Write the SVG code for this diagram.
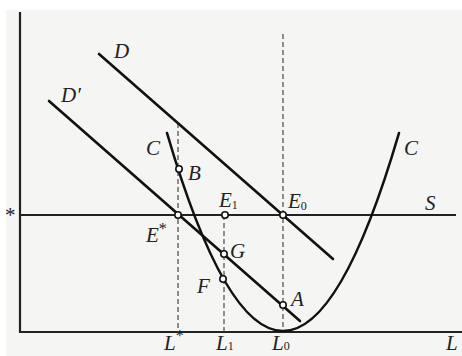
<svg xmlns="http://www.w3.org/2000/svg" width="462" height="356" viewBox="0 0 462 356">
<style>
.ax{stroke:#222;stroke-width:2.2;fill:none}
.ln{stroke:#111;stroke-width:2.6;fill:none;stroke-linecap:round}
.ds{stroke:#555;stroke-width:1.3;stroke-dasharray:5 3;fill:none}
.pt{fill:#fff;stroke:#111;stroke-width:1.6}
text{font-family:"Liberation Serif","Times New Roman",serif;font-style:italic;font-size:21px;fill:#222}
.sub{font-size:12px;font-style:normal}
</style>
<rect width="462" height="356" fill="#fff"/>
<rect x="6" y="10" width="456" height="346" fill="#f5f5f3"/>
<g id="axes">
<path class="ax" d="M20,12 V332 H462"/>
<path class="ax" d="M20,215 H456"/>
</g>
<g id="connectors">
<path class="ds" d="M178,123 V332"/>
<path class="ds" d="M224,215 V332"/>
<path class="ds" d="M283,34 V332"/>
<path class="ln" d="M99,54 L333,259"/>
<path class="ln" d="M49,101 L300,321"/>
<path class="ln" d="M167,133 Q283,529 399,133"/>
</g>
<g id="points">
<circle id="B" class="pt" cx="179" cy="169" r="3.2"/>
<circle id="Estar" class="pt" cx="178" cy="215" r="3.2"/>
<circle id="E1" class="pt" cx="225" cy="215" r="3.2"/>
<circle id="E0" class="pt" cx="283" cy="215" r="3.2"/>
<circle id="G" class="pt" cx="224" cy="254" r="3.2"/>
<circle id="F" class="pt" cx="223" cy="279" r="3.2"/>
<circle id="A" class="pt" cx="283" cy="305" r="3.2"/>
</g>
<g id="labels">
<text x="114" y="58">D</text>
<text x="61" y="102">D′</text>
<text x="146" y="155">C</text>
<text x="404" y="155">C</text>
<text x="188" y="180">B</text>
<text x="219" y="207">E<tspan class="sub" dy="2">1</tspan></text>
<text x="288" y="208">E<tspan class="sub" dy="2">0</tspan></text>
<text x="425" y="210">S</text>
<text x="146" y="242">E<tspan dy="-8" font-size="16" font-style="normal">*</tspan></text>
<text x="230" y="258">G</text>
<text x="197" y="293">F</text>
<text x="291" y="306">A</text>
<text x="4" y="222" font-style="normal" font-size="16">*</text>
<text x="164" y="350">L<tspan dy="-9" font-size="16" font-style="normal">*</tspan></text>
<text x="216" y="350">L<tspan class="sub" dy="0">1</tspan></text>
<text x="272" y="350">L<tspan class="sub" dy="0">0</tspan></text>
<text x="446" y="350">L</text>
</g>
</svg>
